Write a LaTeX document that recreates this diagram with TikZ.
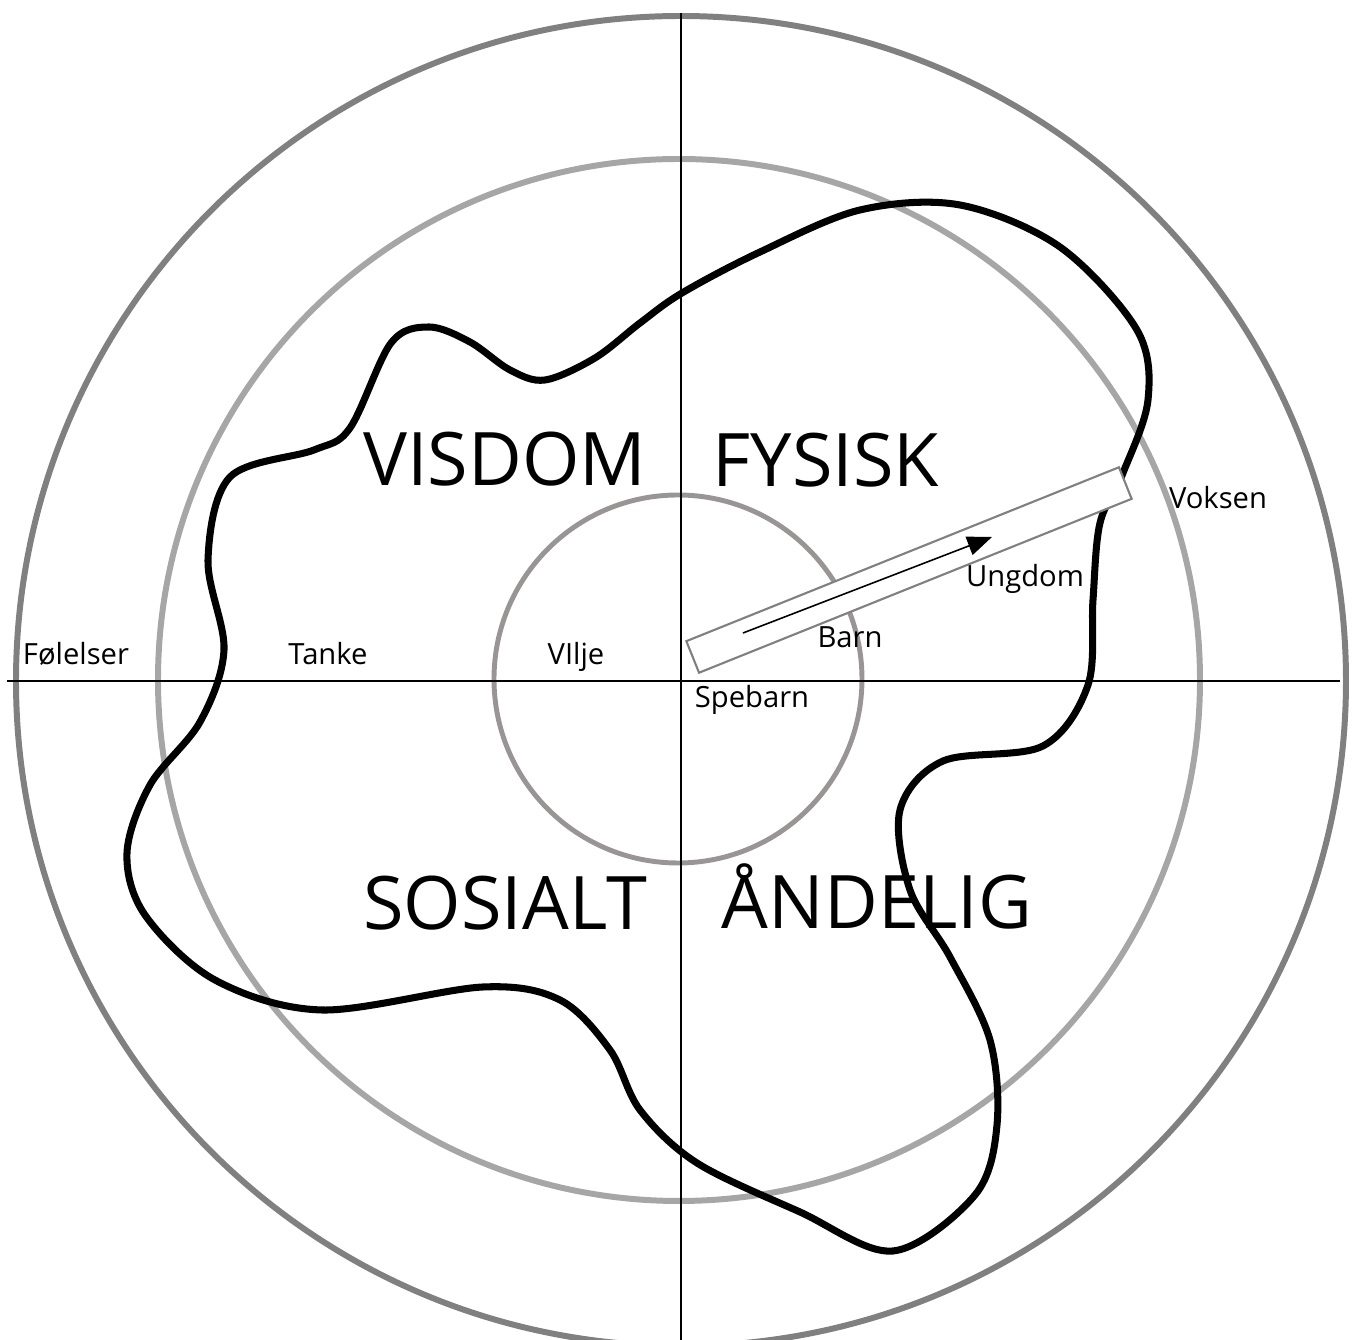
\documentclass[tikz,border=0pt]{standalone}
\usepackage{fontspec}
\setmainfont{Open Sans}
\usepackage{xcolor}
\definecolor{ringouter}{RGB}{128,128,128}
\definecolor{ringmid}{RGB}{166,166,166}
\definecolor{ringinner}{RGB}{153,149,149}
\usetikzlibrary{arrows.meta}

\begin{document}
\begin{tikzpicture}[x=0.01cm,y=-0.01cm,
  small/.style={font=\fontsize{8.3}{10}\selectfont,anchor=base,inner sep=0pt},
  big/.style={font=\fontsize{21}{25}\selectfont,anchor=base,inner sep=0pt}]
  \useasboundingbox (0,0) rectangle (1353,1340);
  \clip (0,0) rectangle (1353,1340);
  % Rings
  \draw[ringouter,line width=1.7pt] (681,681) circle (665);
  \draw[ringmid,line width=1.7pt] (679,680) circle (521);
  \draw[ringinner,line width=1.4pt] (678,679) circle (184);
  % Axes
  \coordinate (west) at (7,681);
  \coordinate (east) at (1340,681);
  \coordinate (north) at (681,13);
  \coordinate (south) at (681,1345);
  \draw[line width=0.75pt] (west)--(east);
  \draw[line width=0.75pt] (north)--(south);
  % Blob
  \draw[line width=2pt] plot[smooth cycle,tension=0.55] coordinates {
    (682,293) (760,252) (860,210) (960,205) (1060,247) (1137,330)
    (1148,400) (1123,473) (1100,523) (1093,600) (1088,685) (1043,746)
    (943,761) (900,810) (910,890) (950,957) (990,1040) (997,1125)
    (975,1195) (893,1251) (800,1212) (697,1163) (640,1110) (610,1050)
    (560,1000) (483,987) (322,1010) (215,980) (145,915) (127,853)
    (150,785) (200,722) (224,650) (208,560) (230,477) (314,450)
    (350,428) (391,343) (429,327) (470,342) (510,370) (545,380)
    (595,358) (640,323)};
  % Growth bar
  \node[draw=ringouter,fill=white,line width=0.6pt,rotate=21.9,minimum width=4.66cm,minimum height=0.34cm,inner sep=0pt] (bar) at (909,570) {};
  \coordinate (start) at (743,633);
  \coordinate (tip) at (992,537);
  \draw[line width=0.45pt,-{Triangle[length=7pt,width=5.5pt]}] (start)--(tip);
  % Labels
  \node[small] (folelser) at (76,665) {Følelser};
  \node[small] (tanke) at (328,665) {Tanke};
  \node[small] (vilje) at (576,665) {VIlje};
  \node[small] (spebarn) at (752,708) {Spebarn};
  \node[small] (barn) at (850,648) {Barn};
  \node[small] (ungdom) at (1025,587) {Ungdom};
  \node[small] (voksen) at (1218,509) {Voksen};
  \node[big] (visdom) at (505,486) {VISDOM};
  \node[big] (fysisk) at (826,487) {FYSISK};
  \node[big] (sosialt) at (505,930) {SOSIALT};
  \node[big] (andelig) at (877,929) {ÅNDELIG};
\end{tikzpicture}
\end{document}
